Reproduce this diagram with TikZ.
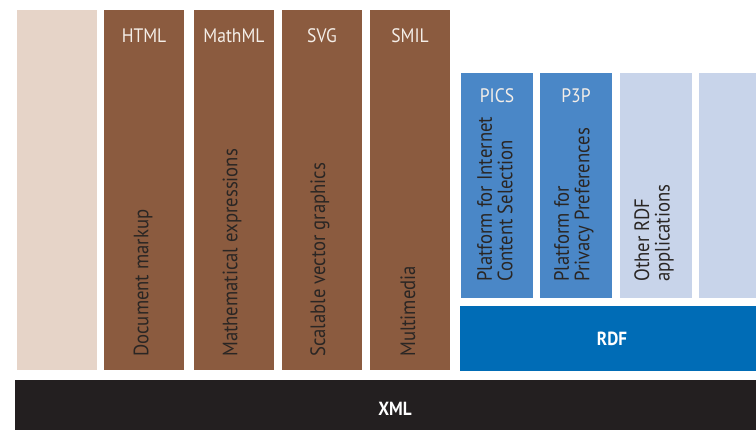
\documentclass[tikz,border=0pt]{standalone}
\usepackage{fontspec}
\setmainfont[FakeStretch=0.9]{PT Sans}
\definecolor{pinkcol}{HTML}{E6D4C8}
\definecolor{browncol}{HTML}{8B5B3F}
\definecolor{bluecol}{HTML}{4A87C7}
\definecolor{lightblue}{HTML}{C8D4EA}
\definecolor{rdfblue}{HTML}{006CB6}
\definecolor{xmlblack}{HTML}{231F20}
\definecolor{labelwhite}{HTML}{F4EEE8}
\definecolor{darktext}{HTML}{2A2624}
\tikzset{
  block/.style={draw=none, inner sep=0pt, anchor=north west, minimum width=#1},
  toplabel/.style={text=labelwhite, font=\fontsize{19.5}{19.5}\selectfont, anchor=base, inner sep=0pt},
  sidelabel/.style={text=darktext, font=\fontsize{20.8}{20.5}\selectfont, rotate=90, anchor=west, align=left, inner sep=0pt},
  barlabel/.style={text=white, font=\fontsize{19}{19}\selectfont\bfseries, inner sep=0pt}
}
\begin{document}
\begin{tikzpicture}[x=1pt,y=-1pt]
\useasboundingbox (0,0) rectangle (756,430);
% columns
\node[block=80pt, minimum height=360pt, fill=pinkcol] (pink) at (17,10) {};
\node[block=80pt, minimum height=360pt, fill=browncol] (html) at (104,10) {};
\node[block=80pt, minimum height=360pt, fill=browncol] (mathml) at (194,10) {};
\node[block=80pt, minimum height=360pt, fill=browncol] (svg) at (282,10) {};
\node[block=80pt, minimum height=360pt, fill=browncol] (smil) at (370,10) {};
\node[block=72pt, minimum height=225pt, fill=bluecol] (pics) at (461,73) {};
\node[block=72pt, minimum height=225pt, fill=bluecol] (p3p) at (540,73) {};
\node[block=72pt, minimum height=225pt, fill=lightblue] (other) at (620,73) {};
\node[block=57pt, minimum height=225pt, fill=lightblue] (extra) at (699,73) {};
\node[block=296pt, minimum height=65pt, fill=rdfblue] (rdf) at (460,306) {};
\node[block=741pt, minimum height=50pt, fill=xmlblack] (xml) at (15,380) {};
% top labels
\node[toplabel] (htmlT) at (144,43) {HTML};
\node[toplabel] (mathmlT) at (234,43) {MathML};
\node[toplabel] (svgT) at (322,43) {SVG};
\node[toplabel] (smilT) at (410,43) {SMIL};
\node[toplabel] (picsT) at (497,103) {PICS};
\node[toplabel] (p3pT) at (576,103) {P3P};
% side labels
\node[sidelabel] (htmlS) at (143,357) {Document markup};
\node[sidelabel] (mathmlS) at (232,357) {Mathematical expressions};
\node[sidelabel] (svgS) at (320,357) {Scalable vector graphics};
\node[sidelabel] (smilS) at (408,357) {Multimedia};
\node[sidelabel] (picsS) at (495,282) {Platform for Internet\\Content Selection};
\node[sidelabel] (p3pS) at (574,282) {Platform for\\Privacy Preferences};
\node[sidelabel] (otherS) at (654,282) {Other RDF\\applications};
% bar labels
\node[barlabel] (rdfT) at (612,339) {RDF};
\node[barlabel] (xmlT) at (395,409) {XML};
\end{tikzpicture}
\end{document}
